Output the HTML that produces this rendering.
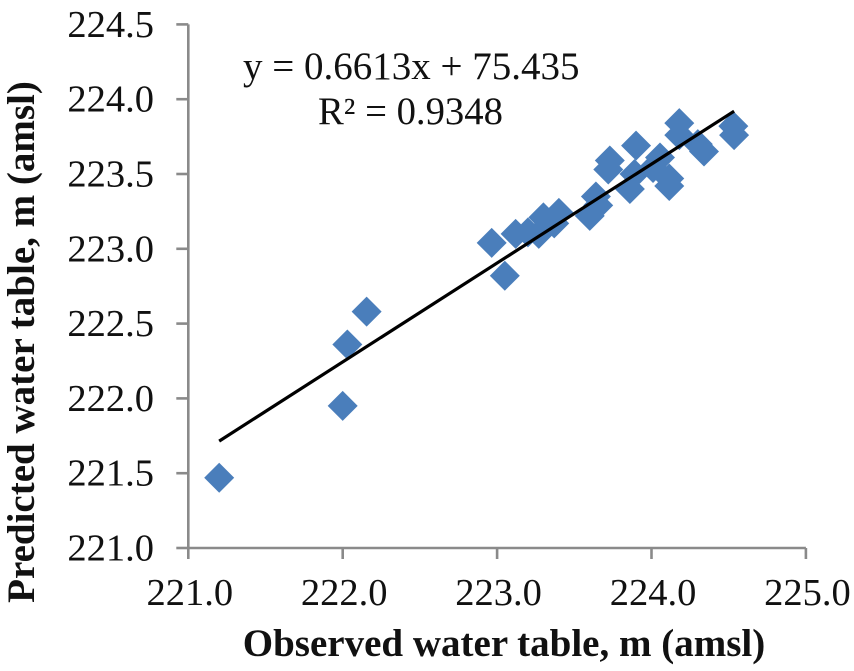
<!DOCTYPE html>
<html>
<head>
<meta charset="utf-8">
<title>Observed vs predicted water table</title>
<style>
html,body{margin:0;padding:0;background:#fff;width:854px;height:671px;overflow:hidden}
svg{display:block}
text{font-family:"Liberation Serif",serif;fill:#111}
</style>
</head>
<body>
<svg id="chart" width="854" height="671" viewBox="0 0 854 671" xmlns="http://www.w3.org/2000/svg">
<text x="504" y="656" font-size="39" font-weight="bold" text-anchor="middle">Observed water table, m (amsl)</text>
<text transform="translate(34,342) rotate(-90)" font-size="39" font-weight="bold" text-anchor="middle">Predicted water table, m (amsl)</text>
<text x="243" y="79" font-size="39">y = 0.6613x + 75.435</text>
<text x="318" y="124" font-size="38.7">R² = 0.9348</text>
</svg>
<script>
const xTickValues = [221, 222, 223, 224, 225];
const yTickValues = [221, 221.5, 222, 222.5, 223, 223.5, 224, 224.5];
const observed = [221.20, 222.00, 222.03, 222.155, 222.965, 223.05, 223.12, 223.20, 223.27, 223.30, 223.37, 223.40, 223.60, 223.655, 223.64, 223.86, 223.89, 223.90, 223.72, 223.73, 224.055, 224.01, 224.115, 224.115, 224.18, 224.18, 224.30, 224.34, 224.53, 224.535];
const predicted = [221.47, 221.95, 222.36, 222.58, 223.04, 222.82, 223.10, 223.11, 223.10, 223.21, 223.17, 223.24, 223.22, 223.29, 223.35, 223.40, 223.50, 223.69, 223.53, 223.59, 223.61, 223.54, 223.47, 223.42, 223.84, 223.76, 223.70, 223.65, 223.82, 223.76];
const trendSlope = 0.6613;
const trendIntercept = 75.435;

const svg = document.getElementById('chart');
const NS = 'http://www.w3.org/2000/svg';
const xScale = v => 188.3 + (v - 221) * 154.4;
const yScale = v => 548 - (v - 221) * 149.6;
function make(tag, attrs) {
  const el = document.createElementNS(NS, tag);
  for (const k in attrs) el.setAttribute(k, attrs[k]);
  svg.appendChild(el);
  return el;
}
const axisStyle = {stroke: '#8a8a8a', 'stroke-width': 2.6, fill: 'none'};

const xAxisLine = make('line', Object.assign({x1: xScale(221), x2: xScale(225), y1: yScale(221), y2: yScale(221)}, axisStyle));


const yAxisLine = make('line', Object.assign({x1: xScale(221), x2: xScale(221), y1: yScale(221), y2: yScale(224.5)}, axisStyle));



xTickValues.forEach(v => {
  const tick = make('line', Object.assign({x1: xScale(v), x2: xScale(v), y1: yScale(221), y2: yScale(221) + 11}, axisStyle));
  
  
  const label = make('text', {x: xScale(v) + 1.5, y: 605, 'font-size': 38.5, 'text-anchor': 'middle'});
  label.textContent = v.toFixed(1);
  
  
});
yTickValues.forEach(v => {
  const tick = make('line', Object.assign({x1: xScale(221) - 12, x2: xScale(221), y1: yScale(v), y2: yScale(v)}, axisStyle));
  
  
  const label = make('text', {x: 154, y: yScale(v) + 12.5, 'font-size': 38.5, 'text-anchor': 'end'});
  label.textContent = v.toFixed(1);
  
  
});

observed.forEach((v, i) => {
  const cx = xScale(v), cy = yScale(predicted[i]), r = 15;
  const pt = make('polygon', {points: [cx, cy - r, cx + r, cy, cx, cy + r, cx - r, cy].join(' '), fill: '#4a7ebb'});
  
  
});

const xLo = Math.min(...observed), xHi = Math.max(...observed);
const trend = make('line', {
  x1: xScale(xLo), y1: yScale(trendSlope * xLo + trendIntercept),
  x2: xScale(xHi), y2: yScale(trendSlope * xHi + trendIntercept),
  stroke: '#000', 'stroke-width': 3.2
});


</script>
</body>
</html>
